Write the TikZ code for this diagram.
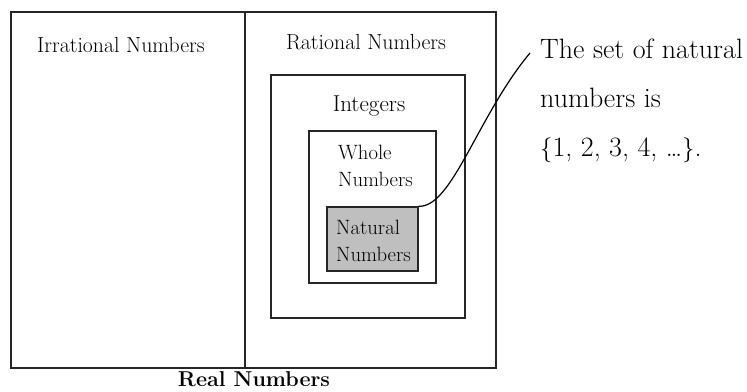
\documentclass[tikz,border=0pt]{standalone}
\usepackage{amsmath,amssymb}
\usetikzlibrary{positioning}

\tikzset{
  setbox/.style={draw=black!85,line width=1.5pt,inner sep=0pt},
  lbl/.style={font=\fontsize{21.8}{27}\selectfont,inner sep=0pt},
  sublbl/.style={font=\fontsize{20.7}{27}\selectfont,inner sep=0pt,align=left,anchor=west},
}

\begin{document}
\begin{tikzpicture}[x=1pt,y=-1pt]
 \useasboundingbox (0,0) rectangle (747,391);
 % nested sets
 \node[setbox,minimum width=485pt,minimum height=356pt] (real) at (253.5,190) {};
 \node[setbox,minimum width=194pt,minimum height=243pt] (integers) at (368,196.5) {};
 \node[setbox,minimum width=127pt,minimum height=152pt] (whole) at (372.5,207) {};
 \node[setbox,fill=black!25,minimum width=91pt,minimum height=64pt] (natural) at (372.5,239) {};
 \coordinate (div) at (245,0);
 \draw[black!85,line width=1.3pt] (div |- real.north) -- (div |- real.south);
 % labels
 \node[lbl] (irrlbl) at (121,45) {Irrational Numbers};
 \node[lbl] (ratlbl) at (366,42) {Rational Numbers};
 \node[lbl,font=\fontsize{23}{27}\selectfont] (intlbl) at (369,106) {Integers};
 \node[sublbl] (wholelbl) at (338,166) {Whole\\Numbers};
 \node[sublbl] (natlbl) at (336,241) {Natural\\Numbers};
 \node[lbl,font=\fontsize{21.5}{24}\selectfont\bfseries] (reallbl) at (254,379) {Real Numbers};
 % note
 \node[inner sep=0pt,anchor=north west,align=left,font=\fontsize{28}{49}\selectfont] (note) at (540,39)
   {The set of natural\\numbers is\\$\{$1, 2, 3, 4, \ldots$\}$.};
 \coordinate (tip) at (530,53);
 \draw[line width=1.2pt] (natural.north east) .. controls (452,208) and (478,115) .. (tip);
\end{tikzpicture}
\end{document}
